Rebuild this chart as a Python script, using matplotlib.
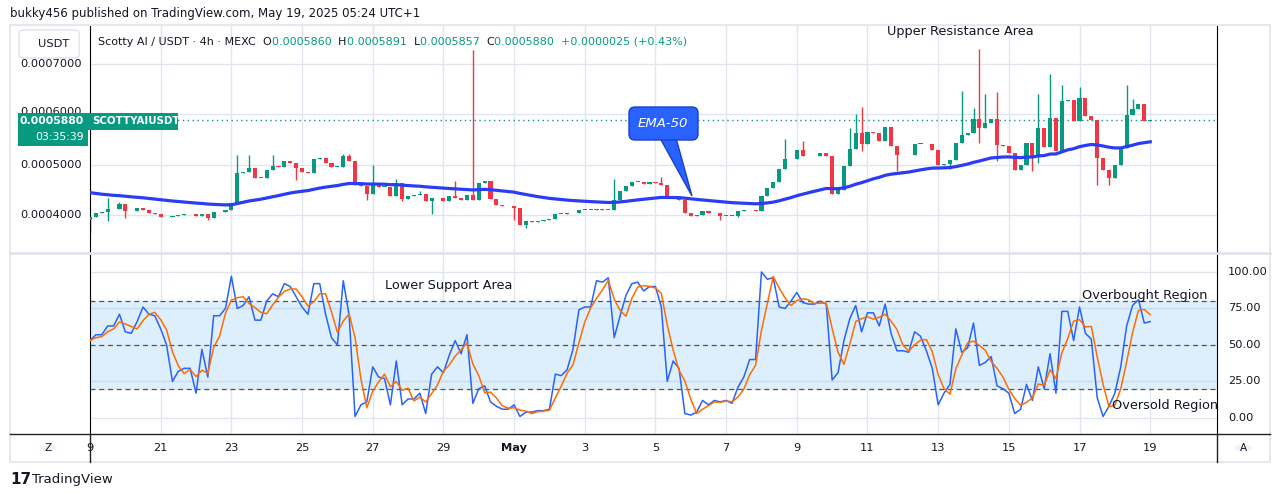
import numpy as np
import pandas as pd
import matplotlib
matplotlib.use("Agg")
import matplotlib.pyplot as plt
from matplotlib.patches import FancyBboxPatch, Polygon, Rectangle

# ---------------- data (prices in units of 1e-7 USDT) ----------------
closes = [
    3950, 4030, 4050, 4120, 4110, 4220, 4070, 4080, 4130, 4090,
    4030, 4020, 3950, 3960, 3970, 4000, 4010, 4010, 3970, 4020,
    3930, 4050, 4060, 4100, 4230, 4830, 4850, 4930, 4730, 4730,
    4900, 4980, 4950, 5070, 5030, 4930, 4850, 4830, 5100, 5130,
    5030, 4950, 4960, 5170, 5070, 4590, 4580, 4410, 4630, 4560,
    4560, 4370, 4630, 4320, 4380, 4390, 4420, 4270, 4330, 4330,
    4270, 4380, 4330, 4290, 4400, 4300, 4630, 4680, 4320, 4200,
    4170, 4180, 4130, 3800, 3870, 3850, 3870, 3900, 3920, 4020,
    4020, 4030, 4040, 4100, 4100, 4100, 4120, 4100, 4100, 4300,
    4470, 4570, 4650, 4650, 4610, 4650, 4630, 4600, 4330, 4330,
    4290, 4030, 3980, 3990, 4070, 4030, 4040, 3980, 3980, 3980,
    4080, 4090, 4100, 4070, 4367, 4533, 4653, 4920, 5100, 5113,
    5280, 5167, 5167, 5170, 5220, 5167, 4413, 4500, 4967, 5300,
    5620, 5400, 5647, 5633, 5467, 5753, 5367, 5180, 5180, 5187,
    5413, 5413, 5400, 5287, 4987, 5020, 5080, 5420, 5580, 5633,
    5900, 5720, 5820, 5900, 5387, 5367, 5220, 4900, 5000, 5433,
    5153, 5733, 5347, 5933, 5267, 6267, 6287, 5867, 6333, 5967,
    5887, 5133, 4887, 4733, 4987, 5333, 5980, 6100, 6200, 5867, 5880,
]
first_open = 3900
wick_high = {3: 4330, 5: 4250, 25: 5180, 27: 5180, 31: 5180, 43: 5200, 44: 5200,
             48: 5000, 52: 4710, 56: 4480, 62: 4670, 65: 7280, 89: 4720, 97: 4750,
             118: 5500, 121: 5470, 129: 5733, 130: 6000, 131: 6150, 148: 6470,
             150: 6130, 151: 7300, 152: 6400, 154: 6450, 161: 6400, 163: 6800,
             165: 6580, 168: 6550, 176: 6580, 177: 6300}
wick_low = {0: 3630, 3: 3870, 6: 3930, 20: 3900, 35: 4700, 47: 4300, 53: 4270,
            58: 4020, 72: 3900, 74: 3730, 107: 3900, 110: 3950, 131: 5270,
            137: 4880, 146: 4910, 151: 5430, 154: 5070, 157: 4900, 160: 4880,
            161: 5030, 171: 4600, 173: 4590, 174: 4780}
ema_seed = 4460

stoch_k = [
    53, 57, 57, 63, 63, 71, 59, 58, 66, 76, 71, 70, 61, 50, 25, 32, 34, 34, 17, 47,
    28, 70, 70, 75, 97, 75, 77, 83, 67, 67, 80, 85, 83, 92, 90, 83, 76, 71, 92, 92,
    71, 55, 50, 94, 70, 1, 9, 11, 35, 28, 27, 9, 39, 9, 13, 13, 17, 3, 30, 35,
    31, 43, 53, 44, 57, 10, 20, 22, 11, 8, 6, 6, 9, 1, 4, 4, 5, 5, 6, 30,
    29, 33, 47, 74, 76, 76, 94, 93, 96, 55, 70, 84, 92, 93,
    87, 90, 90, 76, 25, 39, 34, 3, 2, 4, 12, 9, 12, 11, 12, 10, 21, 28, 40, 40,
    100, 95, 96, 76, 75, 80, 86, 79, 78, 78, 80, 78, 26, 31, 53, 68, 77, 59, 72, 72,
    63, 78, 58, 46, 46, 45, 59, 56, 46, 34, 9, 17, 23, 61, 45, 48, 65, 36, 38, 42,
    22, 20, 17, 3, 6, 23, 12, 35, 20, 44, 17, 73, 73, 53, 76, 58, 54, 14, 1, 8,
    17, 35, 63, 77, 81, 65, 66,
]
date_labels = ["9", "21", "23", "25", "27", "29", "May", "3", "5", "7", "9",
               "11", "13", "15", "17", "19"]
date_pos = [0, 12, 24, 36, 48, 60, 72, 84, 96, 108, 120, 132, 144, 156, 168, 180]
price_ticks = [4000, 5000, 6000, 7000]
price_labels = ["0.0004000", "0.0005000", "0.0006000", "0.0007000"]
stoch_ticks = [0, 25, 50, 75, 100]
last_price = 5880

# ---------------- derived ----------------
c = np.array(closes, float)
o = np.concatenate([[first_open], c[:-1]])
hi = np.maximum(o, c)
lo = np.minimum(o, c)
for k, v in wick_high.items():
    hi[k] = max(hi[k], v)
for k, v in wick_low.items():
    lo[k] = min(lo[k], v)
ema = []
e = ema_seed
for v in c:
    e = e + (v - e) * 2 / 51
    ema.append(e)
k_ser = pd.Series(stoch_k, dtype=float)
d_ser = k_ser.rolling(3, min_periods=1).mean()
x = np.arange(len(c))

GREEN, RED = "#089981", "#f23645"
GRID = "#e1e6ee"
W, H = 1281, 497
fig = plt.figure(figsize=(W / 100, H / 100), dpi=100)

def fx(px): return px / W
def fy(py): return 1 - py / H

fig.patches.append(Rectangle((fx(10), fy(462)), fx(1260), (462 - 25) / H, transform=fig.transFigure,
                             fill=False, edgecolor="#e6e8ec", lw=1.5))

xl = (0, (1217 - 90) / 5.89)
ax = fig.add_axes([fx(90), fy(252), fx(1217 - 90), (252 - 25) / H])
ax2 = fig.add_axes([fx(90), fy(433), fx(1217 - 90), (433 - 255) / H])

ax.set_xlim(*xl)
ax.set_ylim(3259, 7776)
for t in price_ticks:
    ax.axhline(t, color=GRID, lw=1, zorder=0)
for p in date_pos:
    ax.axvline(p, color=GRID, lw=1, zorder=0)
    ax2.axvline(p, color=GRID, lw=1, zorder=0)
cols = [GREEN if cc >= oo else RED for oo, cc in zip(o, c)]
ax.vlines(x, lo, hi, colors=cols, lw=1, zorder=2)
ax.bar(x, np.maximum(np.abs(c - o), 12), bottom=np.minimum(o, c), width=0.7, color=cols, zorder=3)
ax.plot(x, ema, color="#2a3cf5", lw=2.3, zorder=4)
ax.axhline(last_price, color=GREEN, lw=1, ls=(0, (1, 2.5)), zorder=1)
ax.set_xticks([]); ax.set_yticks([])
for s in ax.spines.values():
    s.set_visible(False)
ax.spines["left"].set_visible(True)
ax.spines["right"].set_visible(True)

ax2.set_xlim(*xl)
ax2.set_ylim(-10.3, 111.6)
ax2.axhspan(20, 80, color="#ddeefc", zorder=0)
for t in stoch_ticks:
    ax2.axhline(t, color="#c8dcef" if t in (25, 75) else GRID, lw=1, zorder=0.5)
for t in (20, 50, 80):
    ax2.axhline(t, color="#555", lw=0.9, ls=(0, (4, 3)), zorder=1)
ax2.plot(np.arange(len(k_ser)), k_ser, color="#2962ff", lw=1.1, zorder=3)
ax2.plot(np.arange(len(d_ser)), d_ser, color="#ff6d00", lw=1.1, zorder=3)
ax2.set_xticks([]); ax2.set_yticks([])
for s in ax2.spines.values():
    s.set_visible(False)
ax2.spines["left"].set_visible(True)
ax2.spines["right"].set_visible(True)

fig.add_artist(plt.Line2D([fx(10), fx(1270)], [fy(253.5), fy(253.5)], color="#e0e3eb", lw=2))
fig.add_artist(plt.Line2D([fx(10), fx(1270)], [fy(434), fy(434)], color="#222", lw=1))
fig.add_artist(plt.Line2D([fx(90), fx(90)], [fy(434), fy(462)], color="#222", lw=1))
fig.add_artist(plt.Line2D([fx(1217), fx(1217)], [fy(434), fy(462)], color="#222", lw=1))

fig.text(fx(10), fy(14), "bukky456 published on TradingView.com, May 19, 2025 05:24 UTC+1",
         fontsize=8.5, va="center", color="#131722")
for lbl, t in zip(price_labels, price_ticks):
    yy = ax.transData.transform((0, t))[1] / H
    if t == 6000:
        yy += 2 / H
    fig.text(fx(82), yy, lbl, fontsize=8.2, ha="right", va="center", color="#131722", zorder=1)
for t in stoch_ticks:
    fig.text(fx(1228), ax2.transData.transform((0, t))[1] / H, f"{t:.2f}", fontsize=8.2,
             va="center", color="#131722")
for lbl, p in zip(date_labels, date_pos):
    xp = ax2.transData.transform((p, 0))[0] / W
    fig.text(xp, fy(448), lbl, fontsize=8.2, ha="center", va="center", color="#131722",
             fontweight="bold" if lbl == "May" else "normal")

fig.patches.append(FancyBboxPatch((fx(19), fy(58)), fx(60), 28 / H, boxstyle="round,pad=0,rounding_size=0.005",
                                  transform=fig.transFigure, facecolor="white", edgecolor="#e0e3eb", lw=1))
fig.text(fx(38), fy(44), "USDT", fontsize=8.2, va="center", color="#131722")

hx = 98
parts = [("Scotty AI / USDT · 4h · MEXC  ", "#131722"), ("O", "#131722"), ("0.0005860  ", GREEN),
         ("H", "#131722"), ("0.0005891  ", GREEN), ("L", "#131722"), ("0.0005857  ", GREEN),
         ("C", "#131722"), ("0.0005880  ", GREEN), ("+0.0000025 (+0.43%)", GREEN)]
r = fig.canvas.get_renderer()
for s, col in parts:
    t = fig.text(fx(hx), fy(42), s, fontsize=8.0, va="center", color=col)
    hx += t.get_window_extent(renderer=r).width

# price label (drawn on top of the hidden 0.0006000 tick)
lab_ax = fig.add_axes([0, 0, 1, 1], zorder=10)
lab_ax.set_xlim(0, W); lab_ax.set_ylim(H, 0); lab_ax.axis("off")
lab_ax.add_patch(Rectangle((18, 113), 70, 33, facecolor=GREEN, edgecolor="none"))
lab_ax.add_patch(Rectangle((88, 113), 90, 17, facecolor=GREEN, edgecolor="none"))
lab_ax.text(84, 121.5, "0.0005880", fontsize=7.8, ha="right", va="center", color="white", fontweight="bold")
lab_ax.text(84, 137, "03:35:39", fontsize=7.8, ha="right", va="center", color="white")
lab_ax.text(92, 121.5, "SCOTTYAIUSDT", fontsize=7.4, va="center", color="white", fontweight="bold")

# EMA-50 callout
lab_ax.add_patch(Polygon([(660, 138), (676, 138), (692, 196)], closed=True,
                         facecolor="#2962ff", edgecolor="#1a3fd0"))
lab_ax.add_patch(FancyBboxPatch((629, 107), 69, 33, boxstyle="round,pad=0,rounding_size=6",
                                facecolor="#2962ff", edgecolor="#1a3fd0", lw=1))
lab_ax.text(663, 123.5, "EMA-50", fontsize=9.5, ha="center", va="center", color="white", style="italic")

fig.text(fx(960), fy(32), "Upper Resistance Area", fontsize=9.3, ha="center", va="center", color="#131722")
fig.text(fx(449), fy(286), "Lower Support Area", fontsize=9.3, ha="center", va="center", color="#131722")
fig.text(fx(1145), fy(296), "Overbought Region", fontsize=9.3, ha="center", va="center", color="#131722")
fig.text(fx(1165), fy(405), "Oversold Region", fontsize=9.3, ha="center", va="center", color="#131722")

for cx, s in ((48, "Z"), (1243, "A")):
    fig.patches.append(plt.Circle((fx(cx), fy(448)), 9 / W, transform=fig.transFigure,
                                  facecolor="#f0f3fa", edgecolor="none"))
    fig.text(fx(cx), fy(448), s, fontsize=7.5, ha="center", va="center", color="#131722")

fig.text(fx(10), fy(480), "17", fontsize=11, fontweight="heavy", va="center", color="#131722")
fig.text(fx(32), fy(480), "TradingView", fontsize=9.5, va="center", color="#131722")

fig.savefig("out.png", dpi=100, facecolor="white")
